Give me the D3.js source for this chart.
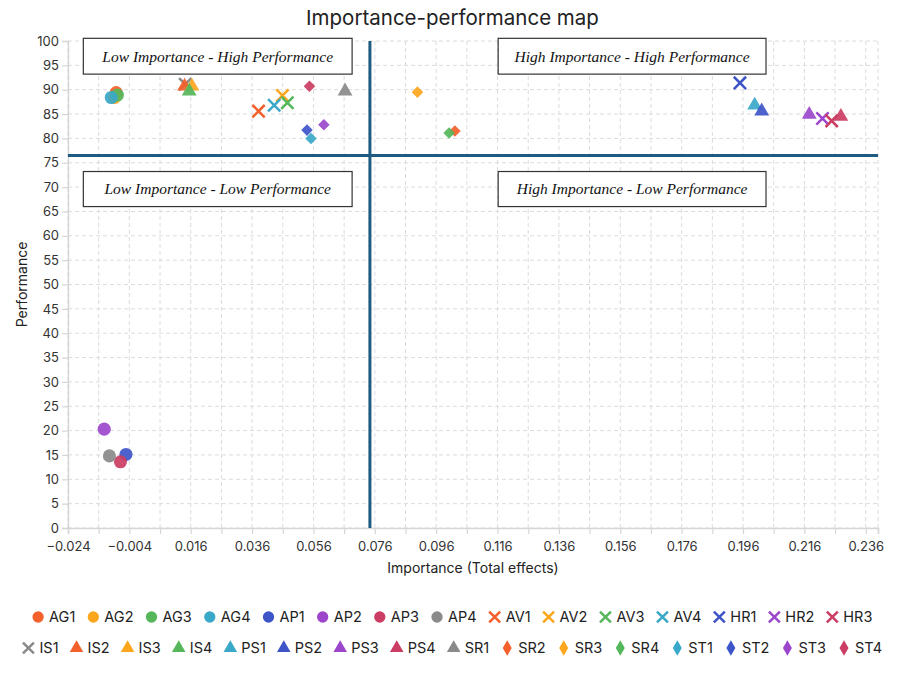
<!DOCTYPE html>
<html>
<head>
<meta charset="utf-8">
<script src="https://cdn.jsdelivr.net/npm/d3@7"></script>
<style>
  body { margin: 0; background: #fff; }
  svg { font-family: Inter, "Noto Sans", sans-serif; }
</style>
</head>
<body>
<div id="chart"></div>
<script>
// indicator names, in legend order
const names = [
  "AG1", "AG2", "AG3", "AG4", "AP1", "AP2", "AP3", "AP4",
  "AV1", "AV2", "AV3", "AV4", "HR1", "HR2", "HR3", "IS1",
  "IS2", "IS3", "IS4", "PS1", "PS2", "PS3", "PS4", "SR1",
  "SR2", "SR3", "SR4", "ST1", "ST2", "ST3", "ST4"
]

// importance (total effects)
const importance = [
  -0.0083, -0.0089, -0.0079, -0.0099, -0.0051, -0.0122, -0.0069, -0.0105,
  0.0381, 0.0459, 0.0475, 0.0432, 0.1950, 0.2219, 0.2249, 0.0142,
  0.0140, 0.0164, 0.0155, 0.1998, 0.2021, 0.2176, 0.2279, 0.0663,
  0.1021, 0.0899, 0.1002, 0.0552, 0.0539, 0.0594, 0.0547
]

// performance
const performance = [
  89.4, 88.4, 88.9, 88.4, 15.1, 20.3, 13.6, 14.8,
  85.6, 88.8, 87.3, 86.8, 91.4, 84.1, 83.6, 91.1,
  90.7, 90.7, 89.7, 86.8, 85.6, 84.9, 84.5, 89.7,
  81.5, 89.5, 81.1, 80.0, 81.7, 82.8, 90.7
]

const palette = ["#f4602b", "#fca61d", "#55b65a", "#3aa8c8", "#3e55c8", "#9c46cc", "#cb3d62", "#8a8a8a"]
const shapes = ["circle", "times", "triangle", "diamond"]

const xTickLabels = [-0.024, -0.004, 0.016, 0.036, 0.056, 0.076, 0.096, 0.116, 0.136, 0.156, 0.176, 0.196, 0.216, 0.236]
const yTickLabels = [0, 5, 10, 15, 20, 25, 30, 35, 40, 45, 50, 55, 60, 65, 70, 75, 80, 85, 90, 95, 100]

// quadrant split (mean importance / mean performance)
const splitX = 0.0744
const splitY = 76.5

const quadrants = [
  { text: "Low Importance - High Performance", x0: -0.019, x1: 0.0686, y0: 100.55, y1: 93.2 },
  { text: "High Importance - High Performance", x0: 0.1162, x1: 0.2035, y0: 100.55, y1: 93.2 },
  { text: "Low Importance - Low Performance", x0: -0.019, x1: 0.0686, y0: 73.2, y1: 66.0 },
  { text: "High Importance - Low Performance", x0: 0.1162, x1: 0.2035, y0: 73.2, y1: 66.0 }
]

// legend wraps after this many entries
const legendBreak = 15

const width = 905
const height = 676
const margin = { top: 41, right: 27, bottom: 148, left: 68 }

const svg = d3.select("#chart")
  .append("svg")
  .attr("width", width)
  .attr("height", height)

const x = d3.scaleLinear()
  .domain([-0.024, 0.24])
  .range([margin.left, width - margin.right])

const y = d3.scaleLinear()
  .domain([0, 100])
  .range([height - margin.bottom, margin.top])

const symbolFor = shape => ({
  circle: d3.symbolCircle,
  times: d3.symbolTimes,
  triangle: d3.symbolTriangle,
  diamond: d3.symbolDiamond2
})[shape]

const series = names.map((name, i) => ({
  name,
  x: importance[i],
  y: performance[i],
  color: palette[i % 8],
  shape: shapes[Math.floor(i / 8)]
}))

// title
svg.append("text")
  .attr("x", width / 2)
  .attr("y", 25)
  .attr("text-anchor", "middle")
  .attr("font-size", 20.5)
  .attr("fill", "#222")
  .text("Importance-performance map")

// grid
const xMinor = d3.range(0, 27).map(i => -0.024 + i * 0.01).concat([0.24])
svg.append("g")
  .attr("class", "grid")
  .selectAll("line")
  .data(xMinor)
  .enter()
    .append("line")
    .attr("x1", d => x(d))
    .attr("x2", d => x(d))
    .attr("y1", y(100))
    .attr("y2", y(0))
    .attr("stroke", "#dcdcdc")
    .attr("stroke-dasharray", "4,3")

svg.append("g")
  .attr("class", "grid")
  .selectAll("line")
  .data(yTickLabels)
  .enter()
    .append("line")
    .attr("x1", x(-0.024))
    .attr("x2", x(0.24))
    .attr("y1", d => y(d))
    .attr("y2", d => y(d))
    .attr("stroke", "#dcdcdc")
    .attr("stroke-dasharray", "4,3")

// axes
const xAxis = svg.append("g")
  .attr("transform", `translate(0,${y(0)})`)
  .call(d3.axisBottom(x)
    .tickValues(xMinor)
    .tickSize(6)
    .tickFormat(d => xTickLabels.some(t => Math.abs(t - d) < 1e-9) ? d3.format(".3f")(d) : ""))

const yAxis = svg.append("g")
  .attr("transform", `translate(${x(-0.024)},0)`)
  .call(d3.axisLeft(y).tickValues(yTickLabels).tickSize(6))

;[xAxis, yAxis].forEach(g => {
  g.select(".domain").attr("stroke", "#d6d6d6").attr("stroke-width", 1.5)
  g.selectAll(".tick line").attr("stroke", "#d6d6d6").attr("stroke-width", 1.2)
  g.selectAll(".tick text")
    .attr("font-size", 13)
    .attr("fill", "#333")
    .attr("font-family", "Inter, sans-serif")
})
xAxis.selectAll(".tick text").attr("dy", "1.1em")
yAxis.selectAll(".tick text").attr("x", -9)

// axis titles
svg.append("text")
  .attr("x", (x.range()[0] + x.range()[1]) / 2)
  .attr("y", 573)
  .attr("text-anchor", "middle")
  .attr("font-size", 14)
  .attr("fill", "#222")
  .text("Importance (Total effects)")

svg.append("text")
  .attr("transform", `translate(27,${(y.range()[0] + y.range()[1]) / 2}) rotate(-90)`)
  .attr("text-anchor", "middle")
  .attr("font-size", 14)
  .attr("fill", "#222")
  .text("Performance")

// quadrant split lines
svg.append("line")
  .attr("x1", x(-0.024)).attr("x2", x(0.24))
  .attr("y1", y(splitY)).attr("y2", y(splitY))
  .attr("stroke", "#1f5a80").attr("stroke-width", 3)

svg.append("line")
  .attr("x1", x(splitX)).attr("x2", x(splitX))
  .attr("y1", y(100)).attr("y2", y(0))
  .attr("stroke", "#1f5a80").attr("stroke-width", 3)

// quadrant labels
const quad = svg.append("g")
  .selectAll("g.quad")
  .data(quadrants)
  .enter()
    .append("g")
    .attr("class", "quad")

quad.append("rect")
  .attr("x", d => x(d.x0))
  .attr("y", d => y(d.y0))
  .attr("width", d => x(d.x1) - x(d.x0))
  .attr("height", d => y(d.y1) - y(d.y0))
  .attr("fill", "#fff")
  .attr("stroke", "#333")
  .attr("stroke-width", 1.2)

quad.append("text")
  .attr("x", d => (x(d.x0) + x(d.x1)) / 2)
  .attr("y", d => (y(d.y0) + y(d.y1)) / 2)
  .attr("dy", "0.35em")
  .attr("text-anchor", "middle")
  .attr("font-family", "'Liberation Serif', 'DejaVu Serif', serif")
  .attr("font-style", "italic")
  .attr("font-size", 15.5)
  .attr("fill", "#111")
  .text(d => d.text)

// points
const pathFor = (shape, size) => d3.symbol().type(symbolFor(shape)).size(size)()
const plotSize = { circle: 135, times: 100, triangle: 95, diamond: 85 }

svg.append("g")
  .attr("class", "points")
  .selectAll("path")
  .data(series)
  .enter()
    .append("path")
    .attr("transform", d => `translate(${x(d.x)},${y(d.y)})`)
    .attr("d", d => pathFor(d.shape, plotSize[d.shape]))
    .attr("fill", d => d.shape === "times" ? "none" : d.color)
    .attr("fill-opacity", 0.92)
    .attr("stroke", d => d.shape === "times" ? d.color : "none")
    .attr("stroke-width", 2.5)

// legend, two centred rows
const legendSize = { circle: 100, times: 80, triangle: 80, diamond: 70 }
const legend = svg.append("g").attr("class", "legend")
const items = legend.selectAll("g")
  .data(series)
  .enter()
    .append("g")

items.append("path")
  .attr("d", d => d.shape === "diamond"
    ? d3.symbol().type(d3.symbolDiamond).size(legendSize.diamond)()
    : pathFor(d.shape, legendSize[d.shape]))
  .attr("fill", d => d.shape === "times" ? "none" : d.color)
  .attr("stroke", d => d.shape === "times" ? d.color : "none")
  .attr("stroke-width", 2.5)

items.append("text")
  .attr("x", 11)
  .attr("dy", "0.35em")
  .attr("font-size", 14.5)
  .attr("fill", "#222")
  .text(d => d.name)

const gapItem = 18
const rows = [[], []]
items.each(function (d, i) {
  const w = 11 + this.querySelector("text").getComputedTextLength()
  rows[i < legendBreak ? 0 : 1].push({ node: this, w })
})

rows.forEach((row, r) => {
  const total = d3.sum(row, it => it.w) + gapItem * (row.length - 1) + 5.5
  let cx = width / 2 - total / 2 + 5.5
  row.forEach(it => {
    d3.select(it.node).attr("transform", `translate(${cx},${617 + r * 31})`)
    cx += it.w + gapItem
  })
})
</script>
</body>
</html>
